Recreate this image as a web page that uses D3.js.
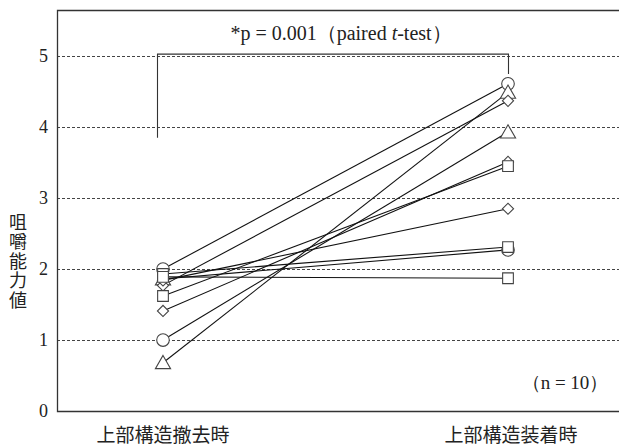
<!DOCTYPE html>
<html>
<head>
<meta charset="utf-8">
<script src="https://cdn.jsdelivr.net/npm/d3@7"></script>
<style>
  html, body { margin: 0; padding: 0; background: #fff; }
  svg { display: block; }
</style>
</head>
<body>
<svg id="chart" width="619" height="448"></svg>
<script>
// Time points
const categories = ["上部構造撤去時", "上部構造装着時"];
// Marker shape per subject at each time point
const shapesBefore = ["circle", "circle", "triangle", "triangle", "diamond", "diamond", "diamond", "square", "square", "square"];
const shapesAfter  = ["triangle", "circle", "triangle", "circle", "diamond", "diamond", "diamond", "square", "square", "square"];
// Chewing ability: superstructure removed / attached
const beforeValues = [1.0, 2.0, 0.68, 1.86, 1.41, 1.77, 1.84, 1.62, 1.93, 1.89];
const afterValues  = [3.93, 4.61, 4.49, 2.27, 3.51, 4.37, 2.85, 3.45, 2.31, 1.87];
const yTicks = [0, 1, 2, 3, 4, 5];

const svg = d3.select("#chart");
const margin = { left: 57, top: 10, right: 0, bottom: 37 };
const W = 619, H = 448;

const y = d3.scaleLinear().domain([0, 5.65]).range([H - margin.bottom, margin.top]);
const x = d3.scalePoint().domain(categories).range([163, 508]);

const serif = "'Liberation Serif', 'Times New Roman', serif";
const cjk = "'Noto Sans CJK JP', sans-serif";

// Dotted gridlines
svg.append("g").selectAll("line").data(yTicks.filter(d => d > 0)).join("line")
  .attr("x1", margin.left).attr("x2", W)
  .attr("y1", d => Math.round(y(d)) + 0.5).attr("y2", d => Math.round(y(d)) + 0.5)
  .attr("stroke", "#444").attr("stroke-width", 1).attr("stroke-dasharray", "3,2");

// Frame: left, top, bottom
const x0 = margin.left + 0.5, yTop = margin.top + 0.5, yBot = Math.round(y(0)) + 0.5;
svg.append("path")
  .attr("d", `M${W},${yTop}H${x0}V${yBot}H${W}`)
  .attr("fill", "none").attr("stroke", "#333").attr("stroke-width", 1.3);

// Y axis labels
const yAxis = d3.axisLeft(y).tickValues(yTicks).tickSize(0).tickPadding(9).tickFormat(d3.format("d"));
svg.append("g").attr("transform", `translate(${margin.left},0)`).call(yAxis)
  .call(g => g.select(".domain").remove())
  .selectAll("text").attr("font-family", serif).attr("font-size", 18).attr("fill", "#222");

// Y axis title, written vertically
svg.append("text")
  .attr("x", 18).attr("y", 213)
  .attr("font-family", cjk).attr("font-size", 18).attr("fill", "#222")
  .style("writing-mode", "vertical-rl").style("text-orientation", "upright")
  .attr("letter-spacing", 1.5)
  .text("咀嚼能力値");

// X category labels
svg.append("g").selectAll("text").data(categories).join("text")
  .attr("x", d => x(d) + (d === categories[1] ? 3 : 0)).attr("y", 442)
  .attr("text-anchor", "middle").attr("font-family", cjk).attr("font-size", 19)
  .attr("fill", "#222").text(d => d);

// Paired lines
const pairs = beforeValues.map((b, i) => ({ b, a: afterValues[i], sb: shapesBefore[i], sa: shapesAfter[i] }));
svg.append("g").selectAll("line").data(pairs).join("line")
  .attr("x1", x(categories[0])).attr("x2", x(categories[1]))
  .attr("y1", d => y(d.b)).attr("y2", d => y(d.a))
  .attr("stroke", "#111").attr("stroke-width", 1.1);

// Markers
const symbolOf = {
  circle: d3.symbol().type(d3.symbolCircle).size(125),
  square: d3.symbol().type(d3.symbolSquare).size(115),
  triangle: d3.symbol().type(d3.symbolTriangle).size(100),
  diamond: d3.symbol().type(d3.symbolSquare).size(62)
};
const points = [];
pairs.forEach(p => {
  points.push({ cat: categories[0], v: p.b, shape: p.sb });
  points.push({ cat: categories[1], v: p.a, shape: p.sa });
});
svg.append("g").selectAll("path").data(points).join("path")
  .attr("d", d => symbolOf[d.shape]())
  .attr("transform", d => `translate(${x(d.cat)},${y(d.v)})` + (d.shape === "diamond" ? " rotate(45)" : "") + (d.shape === "triangle" ? " translate(0,1.5)" : ""))
  .attr("fill", "#fff").attr("stroke", "#444").attr("stroke-width", 1.1);

// Significance bracket
const bx0 = 157, bx1 = x(categories[1]), bTop = y(5) - 2;
svg.append("path")
  .attr("d", `M${bx0 + 0.5},${y(3.85)}V${bTop}H${bx1 + 0.5}V${y(4.75)}`)
  .attr("fill", "none").attr("stroke", "#333").attr("stroke-width", 1.1);

const sig = svg.append("text").attr("x", 341).attr("y", 40).attr("text-anchor", "middle")
  .attr("font-family", serif).attr("font-size", 20).attr("fill", "#222");
sig.append("tspan").text("*p = 0.001（paired ");
sig.append("tspan").attr("font-style", "italic").text("t");
sig.append("tspan").text("-test）");

// Sample size note
svg.append("text").attr("x", 565).attr("y", 389).attr("text-anchor", "middle")
  .attr("font-family", serif).attr("font-size", 19).attr("fill", "#222").text("（n = 10）");
</script>
</body>
</html>
